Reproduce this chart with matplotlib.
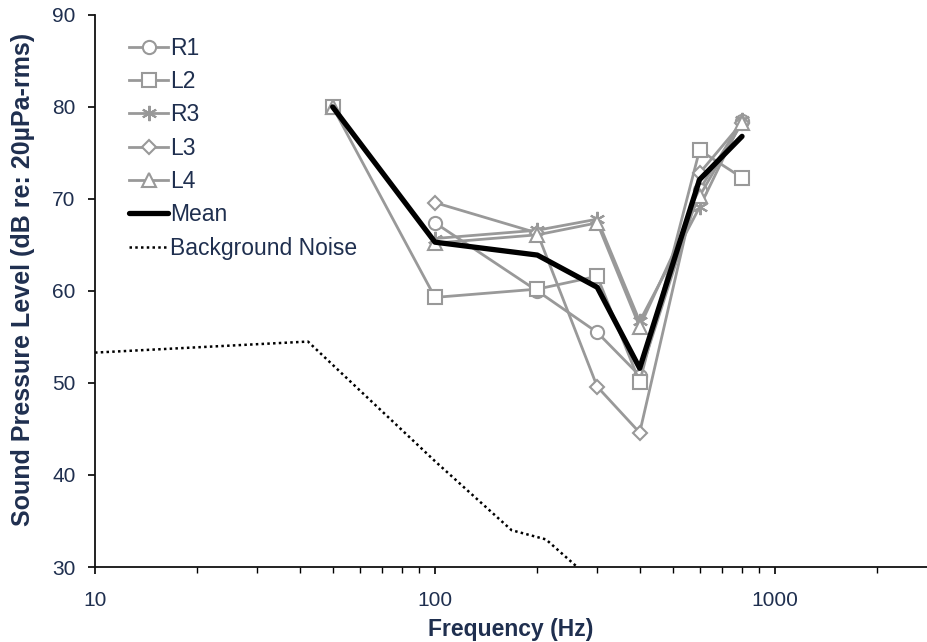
import numpy as np
import matplotlib
matplotlib.use("Agg")
import matplotlib.pyplot as plt
from matplotlib.ticker import LogLocator, NullFormatter, FixedLocator, FixedFormatter

plt.rcParams['font.family'] = ['Liberation Sans', 'DejaVu Sans']

# frequencies (Hz) and measured levels (dB)
freqs = [50, 100, 200, 300, 400, 600, 800]
r1 = [np.nan, 67.4, 60.0, 55.5, 50.8, 71.0, 78.5]
l2 = [80.0, 59.3, 60.2, 61.6, 50.1, 75.3, 72.3]
r3 = [np.nan, 65.7, 66.6, 67.8, 56.7, 69.1, 78.6]
l3 = [np.nan, 69.6, 66.3, 49.6, 44.6, 72.8, 78.3]
l4 = [80.0, 65.2, 66.1, 67.4, 56.1, 70.3, 78.3]
mean = [80.0, 65.3, 63.9, 60.4, 51.6, 72.1, 76.8]

noise_freqs = [10, 42.3, 100, 168, 212, 262]
noise_vals = [53.3, 54.5, 41.5, 34.0, 33.0, 30.0]

navy = '#1f2f4f'
gray = '#999999'

fig = plt.figure(figsize=(9.27, 6.42), dpi=100)
ax = fig.add_axes([0.1025, 0.1168, 0.8975, 0.86])

series = [("R1", r1, 'o', 9.5), ("L2", l2, 's', 9.5), ("R3", r3, (6, 2, 0), 11),
          ("L3", l3, 'D', 7.5), ("L4", l4, '^', 10.5)]
for name, vals, mk, ms in series:
	ax.plot(freqs, vals, color=gray, lw=2.0, marker=mk, ms=ms, mfc='white',
	        mec=gray, mew=1.5, label=name, zorder=3)

ax.plot(freqs, mean, color='black', lw=3.8, solid_capstyle='round',
        solid_joinstyle='round', label="Mean", zorder=4)
ax.plot(noise_freqs, noise_vals, color='black', lw=1.8, linestyle=(0, (1, 1.3)),
        label="Background Noise", zorder=2)

ax.set_xscale('log')
ax.set_xlim(10, 2800)
ax.set_ylim(30, 90)
ax.set_yticks(np.arange(30, 91, 10))
ax.xaxis.set_major_locator(FixedLocator([10, 100, 1000]))
ax.xaxis.set_major_formatter(FixedFormatter(["10", "100", "1000"]))
ax.xaxis.set_minor_locator(LogLocator(base=10, subs=np.arange(2, 10)))
ax.xaxis.set_minor_formatter(NullFormatter())

for s in ['top', 'right']:
	ax.spines[s].set_visible(False)
for s in ['left', 'bottom']:
	ax.spines[s].set_linewidth(1.3)
	ax.spines[s].set_color('#111111')

ax.tick_params(axis='y', direction='out', length=5, width=1.2, pad=9,
               labelsize=15, labelcolor=navy)
ax.tick_params(axis='x', which='major', direction='out', length=5, width=1.2, pad=12,
               labelsize=15, labelcolor=navy)
ax.tick_params(axis='x', which='minor', direction='out', length=4, width=1.0)

ax.set_xlabel("Frequency (Hz)", fontsize=16.5, fontweight='bold', color=navy, labelpad=6)
ax.set_ylabel("Sound Pressure Level (dB re: 20µPa-rms)", fontsize=18, fontweight='bold',
              color=navy)
ax.yaxis.set_label_coords(-0.072, 0.52)

leg = ax.legend(loc='upper left', bbox_to_anchor=(0.03, 0.977), frameon=False,
                fontsize=16.5, handlelength=1.7, handletextpad=0.08,
                labelspacing=0.45, borderaxespad=0)
for t in leg.get_texts():
	t.set_color(navy)

plt.savefig("out.png", dpi=100)
